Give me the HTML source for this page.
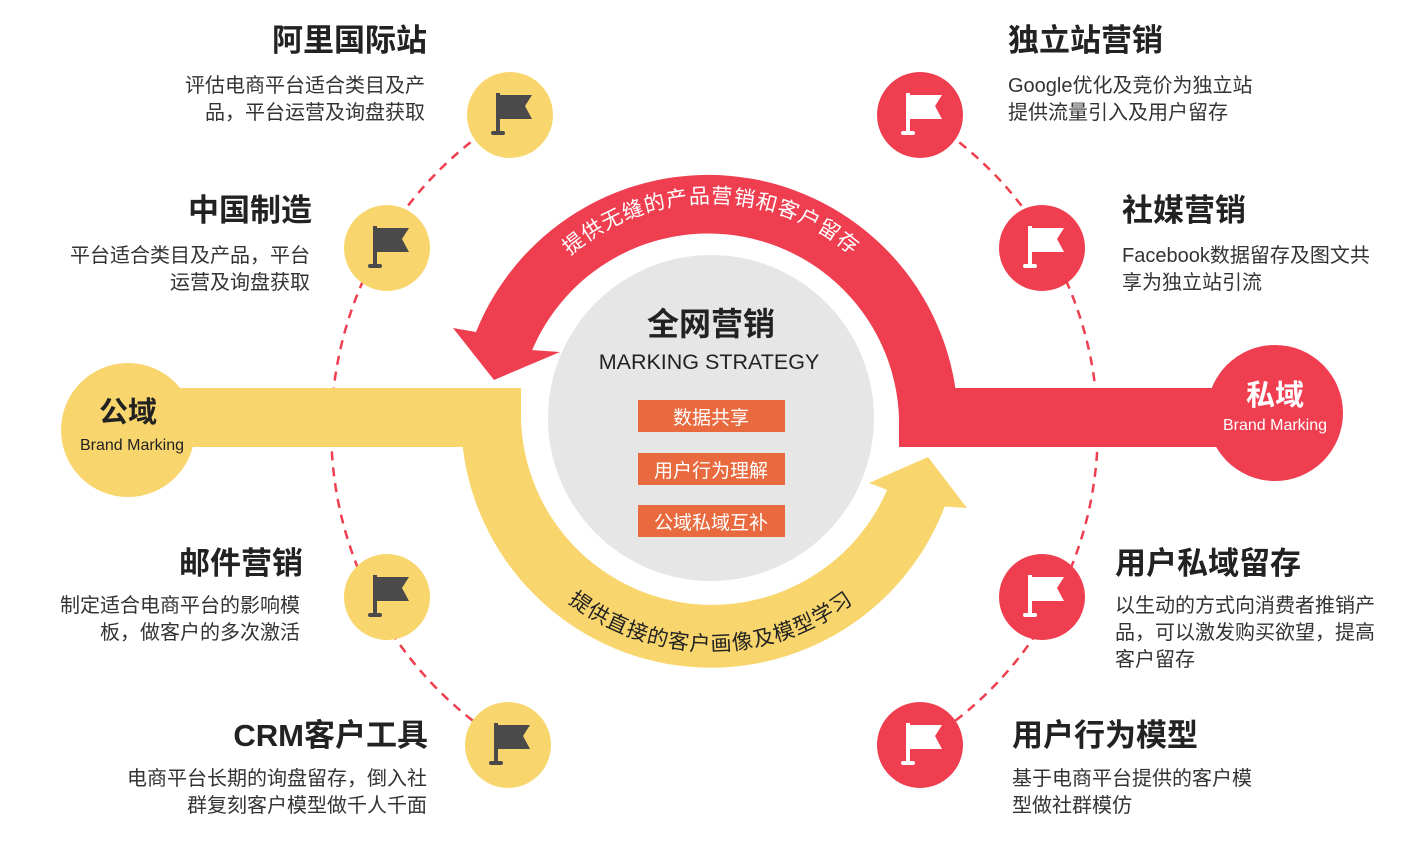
<!DOCTYPE html>
<html><head><meta charset="utf-8"><style>
html,body{margin:0;padding:0;background:#fff;}
svg{display:block;}
text{font-family:"Liberation Sans","Noto Sans CJK SC",sans-serif;}
</style></head><body>
<svg width="1420" height="848" viewBox="0 0 1420 848" xmlns="http://www.w3.org/2000/svg">
<path d="M510,115 A368,368 0 0 0 508,745" fill="none" stroke="#ef3e4f" stroke-width="2.5" stroke-dasharray="9,7"/>
<path d="M920,115 A368,368 0 0 1 920,745" fill="none" stroke="#ef3e4f" stroke-width="2.5" stroke-dasharray="9,7"/>

<rect x="180" y="388" width="341" height="59" fill="#f8d66d"/>
<path d="M461,418 A250,250 0 0 0 946,503 L890,483 A191,191 0 0 1 521,418 Z" fill="#f8d66d"/>
<polygon points="928,457 869,483 893,492 937,506 967,508" fill="#f8d66d"/>

<rect x="899" y="388" width="380" height="59" fill="#ef3e4f"/>
<path d="M958,447 L958,418 A250,250 0 0 0 476,332 L531,353 A191,191 0 0 1 899,418 L899,447 Z" fill="#ef3e4f"/>
<polygon points="453,328 494,380 560,352 531,350 476,332" fill="#ef3e4f"/>

<circle cx="711" cy="418" r="163" fill="#e6e6e6"/>
<text x="711" y="335" text-anchor="middle" font-size="32" font-weight="bold" fill="#222">全网营销</text>
<text x="709" y="369" text-anchor="middle" font-size="21.5" fill="#222">MARKING STRATEGY</text>
<rect x="638" y="400" width="147" height="32" fill="#e86a3e"/>
<rect x="638" y="453" width="147" height="32" fill="#e86a3e"/>
<rect x="638" y="505" width="147" height="32" fill="#e86a3e"/>
<text x="711" y="424" text-anchor="middle" font-size="19" fill="#fff">数据共享</text>
<text x="711" y="477" text-anchor="middle" font-size="19" fill="#fff">用户行为理解</text>
<text x="711" y="529" text-anchor="middle" font-size="19" fill="#fff">公域私域互补</text>

<defs>
<path id="topArc" d="M496,418 A215,215 0 0 1 926,418"/>
<path id="botArc" d="M478,418 A233,233 0 0 0 944,418"/>
</defs>
<text font-size="21" fill="#fff" letter-spacing="1"><textPath href="#topArc" startOffset="50%" text-anchor="middle">提供无缝的产品营销和客户留存</textPath></text>
<text font-size="21" fill="#222" letter-spacing="1"><textPath href="#botArc" startOffset="50%" text-anchor="middle">提供直接的客户画像及模型学习</textPath></text>

<circle cx="128" cy="430" r="67" fill="#f8d66d"/>
<text x="128" y="422" text-anchor="middle" font-size="29" font-weight="bold" fill="#222">公域</text>
<text x="132" y="450" text-anchor="middle" font-size="16" fill="#222">Brand Marking</text>
<circle cx="1275" cy="413" r="68" fill="#ef3e4f"/>
<text x="1275" y="405" text-anchor="middle" font-size="29" font-weight="bold" fill="#fff">私域</text>
<text x="1275" y="430" text-anchor="middle" font-size="16" fill="#fff">Brand Marking</text>

<defs>
<g id="flag">
<rect x="-14" y="-22" width="4" height="40"/>
<rect x="-19" y="16" width="14" height="4" rx="2"/>
<path d="M-11,-20 L22,-20 L15,-9 L22,4 L-11,4 Z"/>
</g>
</defs>
<g fill="#4a4a4a">
<circle cx="510" cy="115" r="43" fill="#f8d66d"/><use href="#flag" x="510" y="115"/>
<circle cx="387" cy="248" r="43" fill="#f8d66d"/><use href="#flag" x="387" y="248"/>
<circle cx="387" cy="597" r="43" fill="#f8d66d"/><use href="#flag" x="387" y="597"/>
<circle cx="508" cy="745" r="43" fill="#f8d66d"/><use href="#flag" x="508" y="745"/>
</g>
<g fill="#fff">
<circle cx="920" cy="115" r="43" fill="#ef3e4f"/><use href="#flag" x="920" y="115"/>
<circle cx="1042" cy="248" r="43" fill="#ef3e4f"/><use href="#flag" x="1042" y="248"/>
<circle cx="1042" cy="597" r="43" fill="#ef3e4f"/><use href="#flag" x="1042" y="597"/>
<circle cx="920" cy="745" r="43" fill="#ef3e4f"/><use href="#flag" x="920" y="745"/>
</g>

<g text-anchor="end" fill="#222">
<text x="427" y="51" font-size="31" font-weight="bold">阿里国际站</text>
<text x="425" y="92" font-size="20" fill="#333">评估电商平台适合类目及产</text>
<text x="425" y="119" font-size="20" fill="#333">品，平台运营及询盘获取</text>
<text x="312" y="221" font-size="31" font-weight="bold">中国制造</text>
<text x="310" y="262" font-size="20" fill="#333">平台适合类目及产品，平台</text>
<text x="310" y="289" font-size="20" fill="#333">运营及询盘获取</text>
<text x="303" y="574" font-size="31" font-weight="bold">邮件营销</text>
<text x="300" y="612" font-size="20" fill="#333">制定适合电商平台的影响模</text>
<text x="300" y="639" font-size="20" fill="#333">板，做客户的多次激活</text>
<text x="428" y="746" font-size="31" font-weight="bold">CRM客户工具</text>
<text x="427" y="785" font-size="20" fill="#333">电商平台长期的询盘留存，倒入社</text>
<text x="427" y="812" font-size="20" fill="#333">群复刻客户模型做千人千面</text>
</g>
<g fill="#222">
<text x="1008" y="51" font-size="31" font-weight="bold">独立站营销</text>
<text x="1008" y="92" font-size="20" fill="#333">Google优化及竞价为独立站</text>
<text x="1008" y="119" font-size="20" fill="#333">提供流量引入及用户留存</text>
<text x="1122" y="221" font-size="31" font-weight="bold">社媒营销</text>
<text x="1122" y="262" font-size="20" fill="#333">Facebook数据留存及图文共</text>
<text x="1122" y="289" font-size="20" fill="#333">享为独立站引流</text>
<text x="1115" y="574" font-size="31" font-weight="bold">用户私域留存</text>
<text x="1115" y="612" font-size="20" fill="#333">以生动的方式向消费者推销产</text>
<text x="1115" y="639" font-size="20" fill="#333">品，可以激发购买欲望，提高</text>
<text x="1115" y="666" font-size="20" fill="#333">客户留存</text>
<text x="1012" y="746" font-size="31" font-weight="bold">用户行为模型</text>
<text x="1012" y="785" font-size="20" fill="#333">基于电商平台提供的客户模</text>
<text x="1012" y="812" font-size="20" fill="#333">型做社群模仿</text>
</g>
</svg>
</body></html>
